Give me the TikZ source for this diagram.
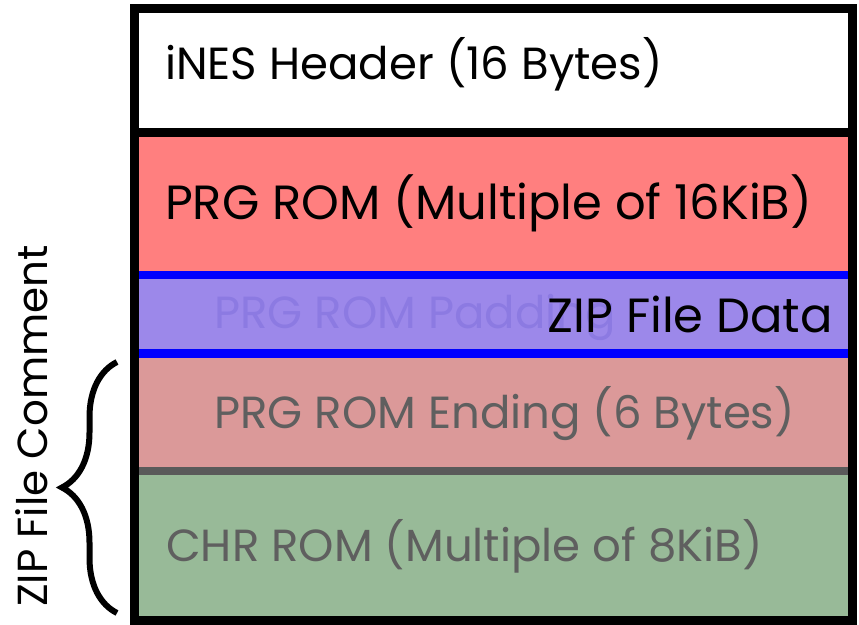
\documentclass[tikz,border=0pt]{standalone}
\usepackage{fontspec}
\setmainfont{Poppins}
\usepackage{tikz}
\usetikzlibrary{positioning, decorations.pathreplacing}

\definecolor{prgred}{RGB}{255,127,127}
\definecolor{zippurple}{RGB}{156,136,234}
\definecolor{padtext}{RGB}{140,122,226}
\definecolor{endred}{RGB}{219,153,153}
\definecolor{chrgreen}{RGB}{152,186,152}
\definecolor{fadetext}{RGB}{95,95,95}
\definecolor{sepgrey}{RGB}{90,90,90}

\begin{document}
\begin{tikzpicture}[x=1pt, y=1pt,
    section/.style={rectangle, inner sep=0pt, outer sep=0pt, minimum width=718pt, anchor=south west},
    txt/.style={font=\fontsize{45}{52}\selectfont, inner sep=0pt, anchor=base west}]
    \useasboundingbox (0,0) rectangle (859,624);

    % ROM layout
    \node[section, fill=white, minimum height=124pt] (hdr) at (134.5,491.5) {};
    \node[section, fill=prgred, minimum height=142.5pt] (prg) at (134.5,349) {};
    \node[section, fill=zippurple, minimum height=78.5pt] (pad) at (134.5,270.5) {};
    \node[section, fill=endred, minimum height=117.5pt] (ending) at (134.5,153) {};
    \node[section, fill=chrgreen, minimum height=149pt] (chr) at (134.5,4) {};

    % separators
    \draw[line width=8.5pt] (prg.north west) -- (prg.north east);
    \draw[blue, line width=8.5pt] (pad.north west) -- (pad.north east);
    \draw[blue, line width=8.5pt] (pad.south west) -- (pad.south east);
    \draw[sepgrey, line width=8pt] (chr.north west) -- (chr.north east);
    \draw[line width=9pt] (hdr.north west) rectangle (chr.south east);

    % texts
    \node[txt] (hdrtxt) at (165,544) {iNES Header (16 Bytes)};
    \node[txt, font=\fontsize{48}{52}\selectfont] (prgtxt) at (165,404) {PRG ROM (Multiple of 16KiB)};
    \node[txt, text=padtext] (padtxt) at (214,295) {PRG ROM Padding};
    \node[txt, anchor=base east, font=\fontsize{48}{52}\selectfont] (ziptxt) at (833,291) {ZIP File Data};
    \node[txt, text=fadetext] (endtxt) at (214,195) {PRG ROM Ending (6 Bytes)};
    \node[txt, text=fadetext] (chrtxt) at (166,63) {CHR ROM (Multiple of 8KiB)};

    % comment brace
    \coordinate (cbot) at (117,11);
    \coordinate (ctop) at (117,262);
    \draw[decorate, decoration={brace, amplitude=55pt}, line width=6pt] (cbot) -- (ctop);
    \node[txt, rotate=90, font=\fontsize{42}{48}\selectfont] (comtxt) at (47,17) {ZIP File Comment};
\end{tikzpicture}
\end{document}
